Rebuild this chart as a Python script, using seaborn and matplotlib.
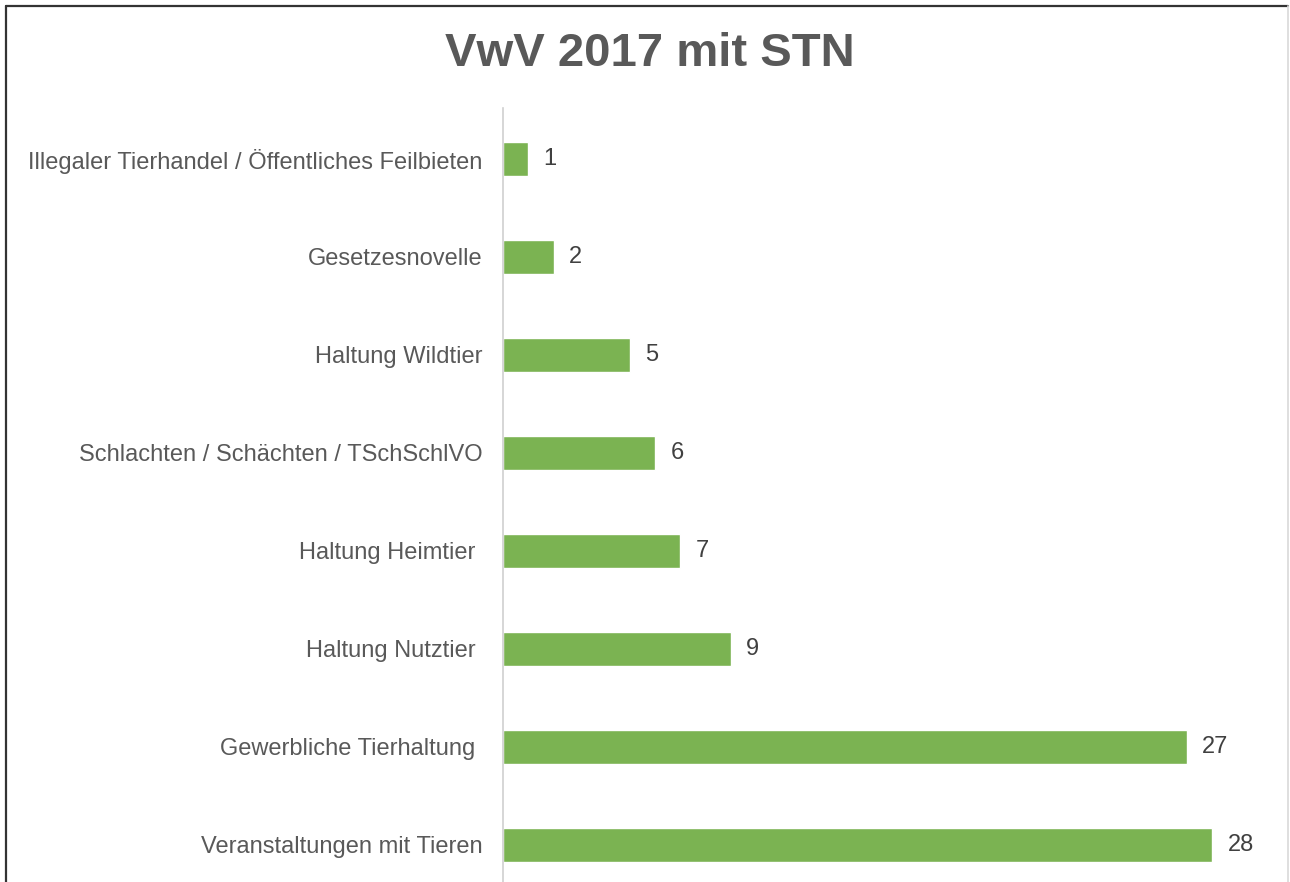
import matplotlib
matplotlib.use("Agg")
import matplotlib.pyplot as plt
import matplotlib.transforms as mtransforms
import seaborn as sns
import pandas as pd
from matplotlib.lines import Line2D

# data
categories = [
    "Illegaler Tierhandel / Öffentliches Feilbieten",
    "Gesetzesnovelle",
    "Haltung Wildtier",
    "Schlachten / Schächten / TSchSchlVO",
    "Haltung Heimtier ",
    "Haltung Nutztier ",
    "Gewerbliche Tierhaltung ",
    "Veranstaltungen mit Tieren",
]
counts = [1, 2, 5, 6, 7, 9, 27, 28]
title = "VwV 2017 mit STN"

df = pd.DataFrame({"Thema": categories, "Anzahl": counts})

sns.set_style("white")
plt.rcParams["font.family"] = ["Liberation Sans", "DejaVu Sans"]

fig = plt.figure(figsize=(12.9, 8.82), dpi=100)
ax = fig.add_axes([503 / 1290, 0.0, 760 / 1290, 1 - 108 / 882])

sns.barplot(data=df, x="Anzahl", y="Thema", color="#7BB352", width=0.35,
            saturation=1, ax=ax)

ax.set_xlim(0, 30)
ax.set_ylim(7.378, -0.52)
ax.set_xlabel("")
ax.set_ylabel("")
ax.set_xticks([])
ax.tick_params(axis="y", length=0, pad=15, labelsize=17, labelcolor="#595959")

for side in ["top", "right", "bottom"]:
    ax.spines[side].set_visible(False)
ax.spines["left"].set_color("#d0d0d0")
ax.spines["left"].set_linewidth(1.2)

labels = ax.bar_label(ax.containers[0], padding=11, fontsize=17, color="#404040")
# nudge the numbers down a little so they sit on the bar centre
shift = mtransforms.ScaledTranslation(0, -3 / 72, fig.dpi_scale_trans)
for t in labels:
    t.set_transform(t.get_transform() + shift)

fig.text(650 / 1290, 1 - 54 / 882, title, ha="center", va="center",
         fontsize=34, fontweight="bold", color="#595959")

# chart frame
fig.add_artist(Line2D([6 / 1290, 1288 / 1290], [1 - 6 / 882, 1 - 6 / 882],
                      transform=fig.transFigure, color="#333333", lw=1.6))
fig.add_artist(Line2D([6 / 1290, 6 / 1290], [1 - 6 / 882, 0],
                      transform=fig.transFigure, color="#333333", lw=1.6))
fig.add_artist(Line2D([1288 / 1290, 1288 / 1290], [1 - 6 / 882, 0],
                      transform=fig.transFigure, color="#d9d9d9", lw=1.2))

fig.savefig("out.png", dpi=100, facecolor="white")
